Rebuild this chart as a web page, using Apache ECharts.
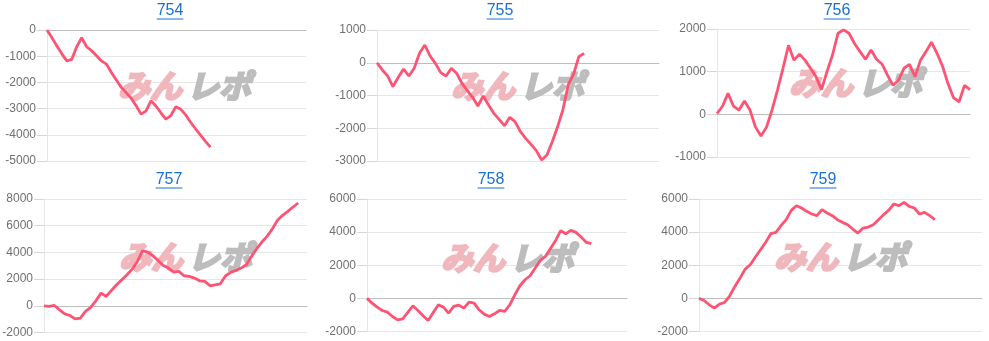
<!DOCTYPE html>
<html>
<head>
<meta charset="utf-8">
<script src="https://cdn.jsdelivr.net/npm/echarts@6/dist/echarts.min.js"></script>
<style>
html,body{margin:0;padding:0;background:#fff;}
#c{width:989px;height:341px;}
</style>
</head>
<body>
<div id="c"></div>
<script>
// ---- data ----
const titles = ['754', '755', '756', '757', '758', '759'];

const v754 = [0, -300, -610, -910, -1180, -1120, -640, -290, -640, -790, -980, -1180, -1300, -1620, -1910, -2190, -2390, -2610, -2890, -3210, -3090, -2700, -2900, -3160, -3400, -3270, -2930, -3020, -3240, -3520, -3770, -4010, -4250, -4470];
const v755 = [0, -220, -400, -730, -445, -190, -405, -170, 290, 540, 206, -18, -300, -405, -170, -320, -630, -850, -1056, -1320, -1015, -1290, -1545, -1728, -1921, -1667, -1799, -2104, -2308, -2491, -2684, -2969, -2817, -2410, -1952, -1443, -679, -354, 186, 288];
const v756 = [20, 190, 490, 190, 100, 310, 100, -300, -510, -300, 100, 570, 1080, 1620, 1270, 1410, 1270, 1080, 880, 580, 1000, 1390, 1900, 1980, 1900, 1660, 1470, 1290, 1510, 1290, 1180, 920, 680, 800, 1080, 1170, 880, 1270, 1470, 1690, 1430, 1130, 720, 390, 290, 680, 580];
const v757 = [0, -50, 25, -300, -600, -725, -975, -925, -425, -125, 375, 950, 700, 1150, 1575, 1950, 2325, 2750, 3325, 4125, 4025, 3750, 3400, 3025, 2825, 2525, 2575, 2250, 2200, 2075, 1875, 1825, 1500, 1575, 1650, 2250, 2500, 2650, 2825, 3075, 3700, 4275, 4775, 5200, 5750, 6400, 6775, 7075, 7400, 7700];
const v758 = [0, -287, -529, -730, -831, -1093, -1294, -1234, -851, -448, -730, -1053, -1335, -851, -388, -529, -892, -488, -408, -589, -227, -287, -690, -952, -1093, -932, -730, -791, -388, 217, 761, 1124, 1366, 1829, 2292, 2534, 3018, 3501, 4086, 3904, 4106, 3985, 3703, 3380, 3300];
const v759 = [0, -126, -388, -589, -347, -247, 157, 721, 1225, 1769, 2030, 2494, 2937, 3380, 3904, 3985, 4388, 4751, 5315, 5597, 5456, 5254, 5093, 4992, 5355, 5154, 4992, 4751, 4590, 4448, 4186, 3945, 4247, 4307, 4448, 4751, 5053, 5315, 5698, 5597, 5798, 5557, 5456, 5093, 5194, 4992, 4751];

// x-axis extent in samples for each chart
const xSpan = [52.3, 53.1, 46, 50.7, 51, 55.2];
// y-axis tick ranges
const yMin = [-5000, -3000, -1000, -2000, -2000, -2000];
const yMax = [0, 1000, 2000, 8000, 6000, 6000];
const yStep = [1000, 1000, 1000, 2000, 2000, 2000];

const seriesValues = [v754, v755, v756, v757, v758, v759];

// ---- layout (pixels) ----
const grids = [
  {left: 47, top: 30, width: 259, height: 131},
  {left: 377, top: 30, width: 282, height: 131},
  {left: 717, top: 29, width: 253, height: 128},
  {left: 44, top: 199, width: 263, height: 133.5},
  {left: 367, top: 199, width: 260, height: 132.5},
  {left: 699, top: 199, width: 283, height: 132.5}
];
const titlePos = [[170, 11], [500, 11], [837, 11], [169, 180], [491, 180], [823, 180]];
const markPos = [[184, 86], [517, 86], [855, 83], [185, 257], [507, 258], [840, 257]];

const FONT = '"Liberation Sans", Arial, sans-serif';
const LINK = '#1a6fd6';

const option = {
  animation: false,
  grid: grids.map(g => Object.assign({containLabel: false, outerBoundsMode: 'none'}, g)),
  xAxis: grids.map((g, i) => ({
    type: 'value', gridIndex: i, min: 0, max: xSpan[i],
    axisLabel: {show: false}, axisTick: {show: false}, splitLine: {show: false},
    axisLine: {show: true, onZero: true, lineStyle: {color: '#bdbdbd', width: 1}}
  })),
  yAxis: grids.map((g, i) => ({
    type: 'value', gridIndex: i, min: yMin[i], max: yMax[i], interval: yStep[i],
    axisLine: {show: true, lineStyle: {color: '#e6e6e6'}},
    axisTick: {show: true, length: 10, lineStyle: {color: '#d6d6d6'}},
    axisLabel: {margin: 11, color: '#707070', fontSize: 12, fontFamily: FONT, formatter: v => String(v)},
    splitLine: {show: true, lineStyle: {color: '#e6e6e6', width: 1}}
  })),
  series: seriesValues.map((vals, i) => ({
    type: 'line', xAxisIndex: i, yAxisIndex: i, z: 5,
    data: vals.map((v, k) => [k, v]),
    symbol: 'none', clip: false,
    lineStyle: {color: '#ff5373', width: 2.8},
    itemStyle: {color: '#ff5373'}
  })),
  graphic: []
};

titles.forEach((t, i) => {
  const [cx, cy] = titlePos[i];
  const w = t.length * 0.556 * 16;
  option.graphic.push({
    type: 'text', x: cx, y: cy, silent: true,
    style: {text: t, fill: LINK, font: '16px ' + FONT, textAlign: 'center', textVerticalAlign: 'middle'}
  });
  option.graphic.push({
    type: 'rect', silent: true,
    shape: {x: cx - w / 2, y: cy + 7.5, width: w, height: 1},
    style: {fill: LINK}
  });
});

markPos.forEach(([cx, cy]) => {
  option.graphic.push({
    type: 'text', x: cx - 2, y: cy, silent: true, z: 1,
    style: {text: 'みん', fill: '#f0b7bd', stroke: '#f0b7bd', lineWidth: 2.5, font: 'italic bold 32px "Noto Sans CJK JP", sans-serif', textAlign: 'right', textVerticalAlign: 'middle'}
  });
  option.graphic.push({
    type: 'text', x: cx + 3, y: cy, silent: true, z: 1,
    style: {text: 'レポ', fill: '#bdbdbd', stroke: '#bdbdbd', lineWidth: 2.5, font: 'italic bold 32px "Noto Sans CJK JP", sans-serif', textAlign: 'left', textVerticalAlign: 'middle'}
  });
});

const chart = echarts.init(document.getElementById('c'), null, {renderer: 'canvas'});
chart.setOption(option);
</script>
</body>
</html>
